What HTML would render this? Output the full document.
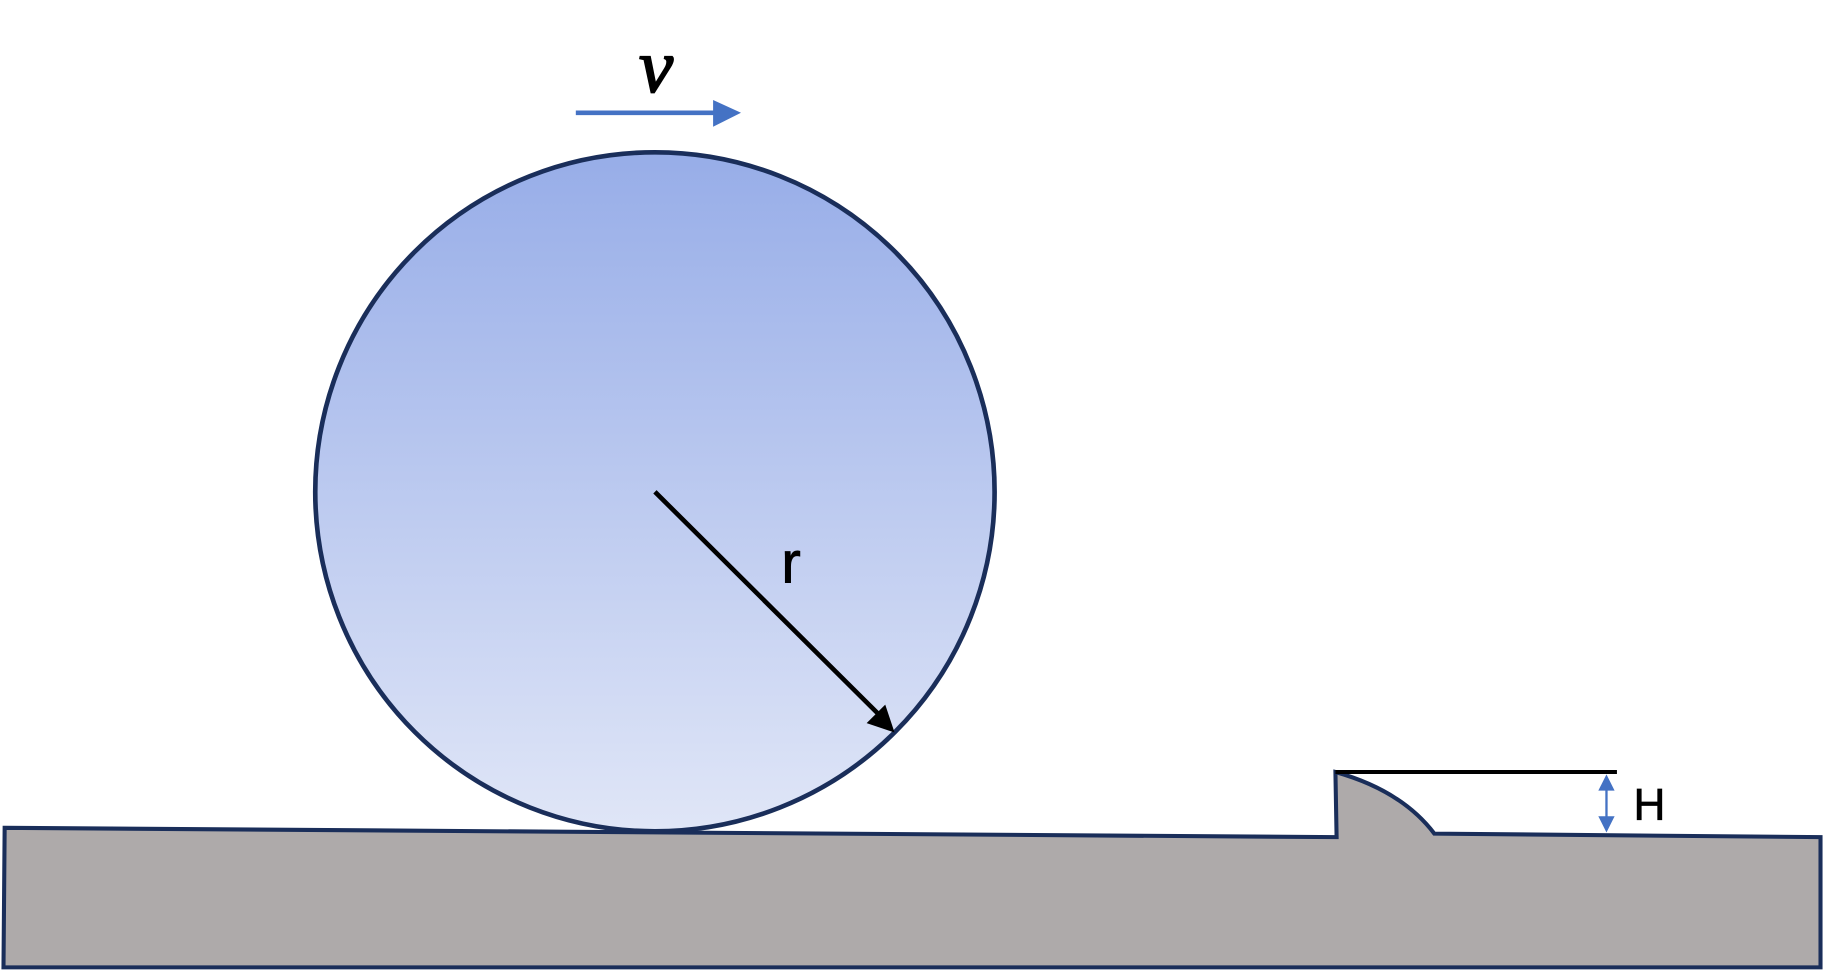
<!DOCTYPE html>
<html>
<head>
<meta charset="utf-8">
<style>
  html,body{margin:0;padding:0;background:#fff;}
  svg{display:block;}
</style>
</head>
<body>
<svg width="1824" height="972" viewBox="0 0 1568 836" preserveAspectRatio="none" xmlns="http://www.w3.org/2000/svg">
  <defs>
    <linearGradient id="ballGrad" x1="0" y1="0" x2="0" y2="1">
      <stop offset="0" stop-color="#97ade8"/>
      <stop offset="1" stop-color="#e0e6f7"/>
    </linearGradient>
  </defs>

  <text x="564" y="79" font-family="Liberation Serif, serif" font-style="italic" font-size="66" text-anchor="middle" fill="#000" stroke="#000" stroke-width="1.5">v</text>
  <g>
    <line x1="495" y1="97" x2="616" y2="97" stroke="#4472c4" stroke-width="4"/>
    <polygon points="613,86 637,97 613,109" fill="#4472c4"/>
  </g>

  <path
    d="M4,712 L1149,720 L1148,664 Q1205,680 1233,717 L1565,720 L1565,832 L3,832 Z"
    fill="#aeaaaa" stroke="#1a2e5a" stroke-width="3.5" stroke-linejoin="miter"/>

  <circle cx="563" cy="423" r="292" fill="url(#ballGrad)" stroke="#1a2e5a" stroke-width="4"/>

  <g>
    <line x1="563" y1="423" x2="755" y2="614" stroke="#000" stroke-width="4"/>
    <polygon points="745,622 761,606 769,630" fill="#000"/>
  </g>
  <text x="680" y="501" font-family="Liberation Sans, sans-serif" font-size="50" text-anchor="middle" fill="#000" stroke="#000" stroke-width="0.8">r</text>

  <line x1="1148" y1="664" x2="1390" y2="664" stroke="#000" stroke-width="3.5"/>
  <g>
    <line x1="1381" y1="676" x2="1381" y2="706" stroke="#4472c4" stroke-width="2"/>
    <polygon points="1374,680 1381,666 1388,680" fill="#4472c4"/>
    <polygon points="1374,702 1381,716 1388,702" fill="#4472c4"/>
  </g>
  <text x="1418" y="705" font-family="Liberation Sans, sans-serif" font-size="38" text-anchor="middle" fill="#000" stroke="#000" stroke-width="0.6">H</text>
</svg>
</body>
</html>
